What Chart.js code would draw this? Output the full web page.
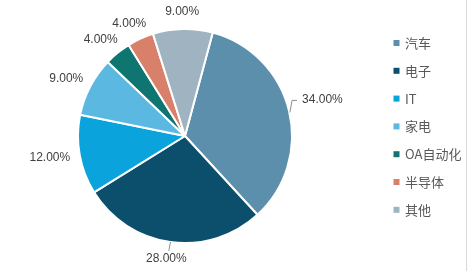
<!DOCTYPE html>
<html>
<head>
<meta charset="utf-8">
<script src="https://cdn.jsdelivr.net/npm/chart.js@4"></script>
<style>
  html, body { margin: 0; padding: 0; background: #fff; }
  #container { width: 471px; height: 271px; position: relative; }
</style>
</head>
<body>
<div id="container"><canvas id="app"></canvas></div>
<script>
const categories = ['汽车', '电子', 'IT', '家电', 'OA自动化', '半导体', '其他']
const shares = [34, 28, 12, 9, 4, 4, 9]
const sliceColors = ['#5b8fab', '#0b4f6c', '#0aa3dc', '#5bb8e0', '#0e7570', '#d9806b', '#9fb4c0']

// label tweaks (index -> pixel nudge + leader line)
const labelTweaks = {
  0: { dx: 4, dy: -7, leader: 'elbow' },
  1: { dx: 0, dy: 0, leader: 'straight' }
}

const pieLabels = {
  id: 'pieLabels',
  afterDatasetsDraw(chart) {
    const ctx = chart.ctx
    const meta = chart.getDatasetMeta(0)
    const data = chart.data.datasets[0].data
    ctx.save()
    ctx.font = '12px "Liberation Sans", Arial, sans-serif'
    ctx.fillStyle = '#404040'
    ctx.textAlign = 'center'
    ctx.textBaseline = 'middle'
    ctx.strokeStyle = '#8c8c8c'
    ctx.lineWidth = 1
    meta.data.forEach((arc, i) => {
      const p = arc.getProps(['x', 'y', 'startAngle', 'endAngle', 'outerRadius'], true)
      const a = (p.startAngle + p.endAngle) / 2
      const cos = Math.cos(a), sin = Math.sin(a)
      const text = data[i].toFixed(2) + '%'
      const w = ctx.measureText(text).width
      const h = 14
      const r = p.outerRadius + 10
      const tw = labelTweaks[i] || { dx: 0, dy: 0 }
      let cx = p.x + r * cos + cos * w / 2 + tw.dx
      let cy = p.y + r * sin + sin * h / 2 + tw.dy
      const ex = p.x + p.outerRadius * cos
      const ey = p.y + p.outerRadius * sin
      if (tw.leader === 'elbow') {
        const lx = cx - w / 2 - 10
        ctx.beginPath()
        ctx.moveTo(ex + 1, ey + 2)
        ctx.lineTo(lx, cy + 1)
        ctx.lineTo(lx + 5, cy + 1)
        ctx.stroke()
      } else if (tw.leader === 'straight') {
        ctx.beginPath()
        ctx.moveTo(ex, ey)
        ctx.lineTo(ex + (cx - ex) * 0.4, ey + (cy - h / 2 - ey) * 0.9)
        ctx.stroke()
      }
      ctx.fillText(text, cx, cy)
    })
    ctx.restore()
  }
}

const sideLegend = {
  id: 'sideLegend',
  afterDraw(chart) {
    const ctx = chart.ctx
    ctx.save()
    ctx.font = '13px "Noto Sans CJK SC", sans-serif'
    ctx.textBaseline = 'middle'
    ctx.textAlign = 'left'
    chart.data.labels.forEach((label, i) => {
      const y = 43 + i * 27.8
      ctx.fillStyle = chart.data.datasets[0].backgroundColor[i]
      ctx.fillRect(393.5, y - 3, 6, 6)
      ctx.fillStyle = '#595959'
      ctx.fillText(label, 405, y)
    })
    // right frame line
    ctx.strokeStyle = '#d9d9d9'
    ctx.beginPath()
    ctx.moveTo(466.5, 0)
    ctx.lineTo(466.5, 271)
    ctx.stroke()
    ctx.restore()
  }
}

new Chart(document.getElementById('app'), {
  type: 'pie',
  data: {
    labels: categories,
    datasets: [{
      data: shares,
      backgroundColor: sliceColors,
      borderColor: '#ffffff',
      borderWidth: 2
    }]
  },
  options: {
    responsive: true,
    maintainAspectRatio: false,
    animation: false,
    rotation: 15,
    layout: { padding: { left: 77, right: 178, top: 28, bottom: 27 } },
    plugins: {
      legend: { display: false },
      tooltip: { enabled: false }
    }
  },
  plugins: [pieLabels, sideLegend]
})
</script>
</body>
</html>
